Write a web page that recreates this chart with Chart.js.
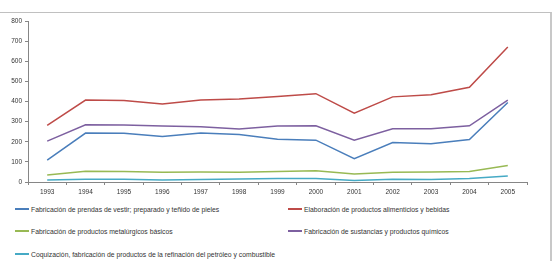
<!DOCTYPE html>
<html>
<head>
<meta charset="utf-8">
<script src="https://cdn.jsdelivr.net/npm/chart.js@4"></script>
<style>
  html, body { margin: 0; padding: 0; background: #fff; }
  body { width: 558px; height: 261px; position: relative; overflow: hidden; font-family: "Liberation Sans", Arial, sans-serif; }
  #frame { position: absolute; left: -2px; top: 12px; width: 552px; height: 260px; border-top: 1px solid #c0c0c0; border-right: 2px solid #c8c8c8; }
  #wrap { position: absolute; left: 0; top: 13px; width: 540px; height: 188px; }
  .leg { position: absolute; font-size: 6.8px; color: #333; white-space: nowrap; line-height: 8px; }
  .leg span.sw { display: inline-block; width: 14px; height: 2px; vertical-align: middle; margin-right: 2px; position: relative; top: -1px; }
</style>
</head>
<body>
<div id="frame"></div>
<div id="wrap"><canvas id="chart"></canvas></div>
<div id="legend"></div>
<script>
document.addEventListener('DOMContentLoaded', () => {

    // categories and series
    const years = ['1993', '1994', '1995', '1996', '1997', '1998', '1999', '2000', '2001', '2002', '2003', '2004', '2005'];
    const vestir = [109, 243, 242, 226, 243, 236, 213, 208, 116, 196, 190, 211, 395];
    const alimenticios = [281, 407, 405, 387, 407, 413, 425, 439, 342, 423, 433, 471, 671];
    const metalurgicos = [35, 53, 52, 48, 50, 48, 52, 56, 40, 48, 50, 52, 82];
    const quimicos = [203, 284, 283, 278, 274, 263, 278, 279, 208, 264, 265, 279, 407];
    const coquizacion = [10, 14, 14, 10, 12, 15, 17, 17, 8, 14, 12, 18, 30];

    const labels = [
        'Fabricación de prendas de vestir; preparado y teñido de pieles',
        'Elaboración de productos alimenticios y bebidas',
        'Fabricación de productos metalúrgicos básicos',
        'Fabricación de sustancias y productos químicos',
        'Coquización, fabricación de productos de la refinación del petróleo y combustible'
    ];
    const colors = ['#4a7ebb', '#be4b48', '#98b954', '#7d60a0', '#46aac5'];
    const series = [vestir, alimenticios, metalurgicos, quimicos, coquizacion];

    // legend, two columns
    const legendSpots = [[15, 206], [288, 206], [15, 228], [288, 228], [15, 251]];
    const legend = document.getElementById('legend');
    labels.forEach((label, i) => {
        const item = document.createElement('div');
        item.className = 'leg';
        item.style.left = legendSpots[i][0] + 'px';
        item.style.top = legendSpots[i][1] + 'px';
        item.innerHTML = `<span class="sw" style="background:${colors[i]}"></span>${label}`;
        legend.appendChild(item);
    });

    const tickFont = { family: 'Liberation Sans', size: 6.5 };

    new Chart(document.getElementById('chart'), {
        type: 'line',
        data: {
            labels: years,
            datasets: series.map((values, i) => ({
                label: labels[i],
                data: values,
                borderColor: colors[i],
                backgroundColor: colors[i],
                borderWidth: 1.5,
                pointRadius: 0,
                tension: 0
            }))
        },
        options: {
            responsive: true,
            maintainAspectRatio: false,
            animation: false,
            layout: { padding: { top: 8, right: 13, left: 0, bottom: 0 } },
            plugins: {
                legend: { display: false },
                tooltip: { enabled: false }
            },
            scales: {
                x: {
                    offset: true,
                    grid: { offset: true, drawOnChartArea: false, tickLength: 3, color: '#868686' },
                    border: { color: '#868686', width: 1 },
                    ticks: { font: tickFont, color: '#333', maxRotation: 0, padding: 3 },
                    afterFit: scale => { scale.height = 19; }
                },
                y: {
                    min: 0,
                    max: 800,
                    grid: { drawOnChartArea: false, tickLength: 3, color: '#868686' },
                    border: { color: '#868686', width: 1 },
                    ticks: { stepSize: 100, font: tickFont, color: '#333', padding: 3 },
                    afterFit: scale => { scale.width = 28; }
                }
            }
        }
    });
});
</script>
</body>
</html>
